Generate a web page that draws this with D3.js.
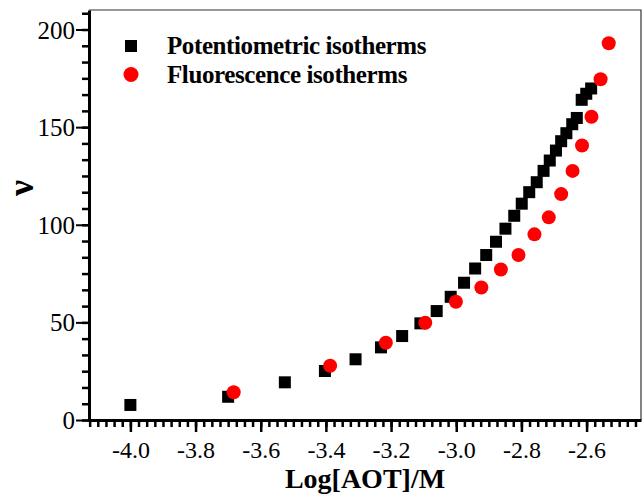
<!DOCTYPE html>
<html>
<head>
<meta charset="utf-8">
<script src="https://cdn.jsdelivr.net/npm/d3@7"></script>
<style>
  body { margin: 0; background: #fff; }
  svg { display: block; }
  .axis path, .axis line { stroke: #000; }
  svg text { font-family: "Liberation Serif", "Times New Roman", serif !important; }
</style>
</head>
<body>
<div id="chart"></div>
<script>
var serif = "Liberation Serif";

// potentiometric isotherms (black squares)
var potX = [-4.0, -3.70, -3.526, -3.403, -3.309, -3.231, -3.166, -3.11, -3.06, -3.017,
            -2.976, -2.942, -2.908, -2.878, -2.849, -2.822, -2.799, -2.776, -2.753, -2.732,
            -2.713, -2.694, -2.678, -2.662, -2.644, -2.630, -2.615, -2.601, -2.586];
var potY = [7.7, 11.9, 19.3, 25.1, 31.1, 37.2, 43.0, 49.5, 55.8, 63.1,
            70.3, 77.6, 84.5, 91.3, 98.0, 104.6, 110.8, 116.7, 121.8, 127.6,
            132.9, 138.0, 142.8, 146.9, 151.5, 154.7, 164.0, 167.1, 169.8];
// fluorescence isotherms (red circles)
var fluX = [-3.683, -3.387, -3.216, -3.095, -3.001, -2.923, -2.863, -2.809, -2.760, -2.716,
            -2.678, -2.643, -2.614, -2.585, -2.557, -2.532];
var fluY = [14.2, 27.8, 39.6, 49.8, 60.6, 67.9, 77.1, 84.5, 95.1, 103.8,
            115.7, 127.6, 140.6, 155.3, 174.5, 193.0];

var xTicks = [-4.0, -3.8, -3.6, -3.4, -3.2, -3.0, -2.8, -2.6];
var yTicks = [0, 50, 100, 150, 200];
var seriesNames = ["Potentiometric isotherms", "Fluorescence isotherms"];

var margin = {top: 10, right: 2, bottom: 78, left: 89},
    width = 643 - margin.left - margin.right,
    height = 498 - margin.top - margin.bottom;

var x = d3.scaleLinear().domain([-4.127, -2.433]).range([0, width]),
    y = d3.scaleLinear().domain([0, 210]).range([height, 0]);

var svg = d3.select("#chart").append("svg")
    .attr("width", 643)
    .attr("height", 498);

var g = svg.append("g")
    .attr("transform", "translate(" + margin.left + "," + margin.top + ")");

// thin frame top/right
g.append("path")
    .attr("d", "M0,0H" + width + "V" + height)
    .attr("fill", "none")
    .attr("stroke", "#333")
    .attr("stroke-width", 1.2);

// minor ticks
var xMinor = d3.range(0, 68).map(function(i) { return -4.125 + i * 0.025; })
    .filter(function(v) { return v <= -2.433; });
var yMinor = d3.range(0, 26).map(function(i) { return i * 50 / 6; })
    .filter(function(v) { return v <= 210; });

g.append("g")
    .attr("class", "axis")
    .attr("transform", "translate(0," + height + ")")
    .call(d3.axisBottom(x).tickValues(xMinor).tickSize(7).tickFormat(""))
    .call(function(s) { s.select(".domain").remove(); s.selectAll("line").attr("stroke-width", 2.5); });

g.append("g")
    .attr("class", "axis")
    .call(d3.axisLeft(y).tickValues(yMinor).tickSize(7).tickFormat(""))
    .call(function(s) { s.select(".domain").remove(); s.selectAll("line").attr("stroke-width", 2.5); });

// major ticks
var xAxis = g.append("g")
    .attr("class", "axis")
    .attr("transform", "translate(0," + height + ")")
    .call(d3.axisBottom(x).tickValues(xTicks).tickSize(12).tickSizeOuter(0).tickPadding(9)
      .tickFormat(function(d) { return d3.format(".1f")(d).replace("\u2212", "-"); }));
xAxis.select(".domain").attr("stroke-width", 3);
xAxis.selectAll("line").attr("stroke-width", 2.5);
xAxis.selectAll("text").style("font-size", "24px");

var yAxis = g.append("g")
    .attr("class", "axis")
    .call(d3.axisLeft(y).tickValues(yTicks).tickSize(13).tickSizeOuter(0).tickPadding(1));
yAxis.select(".domain").attr("stroke-width", 3);
yAxis.selectAll("line").attr("stroke-width", 2);
yAxis.selectAll("text").attr("dy", "0.34em").style("font-size", "25px");

// points
g.selectAll(".pot")
    .data(potX)
  .enter().append("rect")
    .attr("class", "pot")
    .attr("x", function(d) { return x(d) - 6; })
    .attr("y", function(d, i) { return y(potY[i]) - 6; })
    .attr("width", 12)
    .attr("height", 12)
    .attr("fill", "#000");

g.selectAll(".flu")
    .data(fluX)
  .enter().append("circle")
    .attr("class", "flu")
    .attr("cx", function(d) { return x(d); })
    .attr("cy", function(d, i) { return y(fluY[i]); })
    .attr("r", 7)
    .attr("fill", "#ff0000");

// legend
var legend = svg.append("g")
    .attr("font-weight", "bold");
legend.append("rect").attr("x", 125).attr("y", 40).attr("width", 12).attr("height", 12).attr("fill", "#000");
legend.append("circle").attr("cx", 131).attr("cy", 74.5).attr("r", 7.5).attr("fill", "#ff0000");
legend.selectAll("text")
    .data(seriesNames)
  .enter().append("text")
    .attr("x", 167)
    .attr("y", function(d, i) { return 54 + i * 29; })
    .attr("font-size", 25)
    .style("letter-spacing", "-0.4px")
    .text(function(d) { return d; });

// axis titles
svg.append("text")
    .attr("font-weight", "bold")
    .attr("x", margin.left + width / 2)
    .attr("y", 488)
    .attr("text-anchor", "middle")
    .attr("font-size", 28)
    .text("Log[AOT]/M");

svg.append("text")
    .attr("font-weight", "bold")
    .attr("transform", "translate(33,188) rotate(-90)")
    .attr("text-anchor", "middle")
    .attr("font-size", 36)
    .text("\u03bd");
</script>
</body>
</html>
